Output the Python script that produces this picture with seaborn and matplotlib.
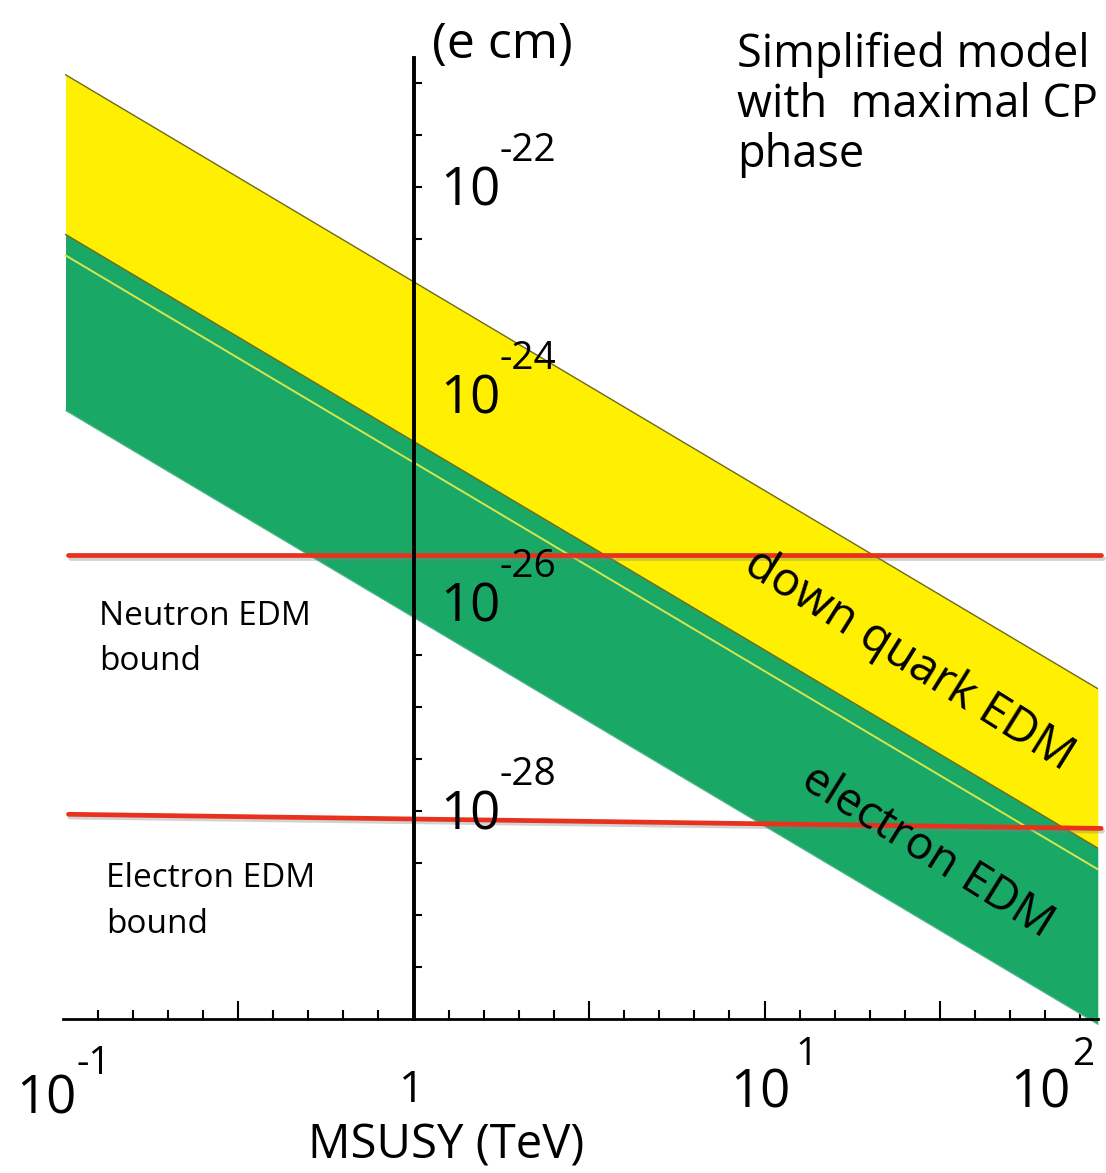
"""EDM vs MSUSY band chart (simplified model with maximal CP phase)."""

import matplotlib

matplotlib.use("Agg")
import matplotlib.patheffects as pe
import matplotlib.pyplot as plt
import seaborn as sns
from matplotlib.ticker import FixedLocator, NullFormatter

W, H = 1106, 1173

# band edges read at both ends of the drawn range (MSUSY in TeV, EDM in e cm)
msusy = [0.102, 89.0]
quark_upper = [1.2e-21, 1.5e-27]
quark_lower = [3.5e-23, 4.4e-29]
electron_upper = [3.5e-23, 4.4e-29]
electron_center = [2.2e-23, 2.75e-29]
electron_lower = [7.1e-25, 8.9e-31]

# experimental bounds
bound_msusy = [0.104, 91.0]
neutron_bound = [2.9e-26, 2.9e-26]
electron_bound = [9.3e-29, 6.8e-29]

y_label_exps = [-22, -24, -26, -28]

YELLOW = "#FFEF00"
GREEN = "#19A865"
OLIVE = "#6E6A1C"
RED = "#E8321E"


def fpos(px, py):
    return px / W, 1 - py / H


sns.set_theme(style="white")
plt.rcParams["font.family"] = ["Open Sans", "DejaVu Sans"]
plt.rcParams["text.color"] = "black"

fig = plt.figure(figsize=(W / 100, H / 100), dpi=100)
ax = fig.add_axes([62.5 / W, (H - 1019) / H, (1098 - 62.5) / W, (1019 - 58) / H])
ax.set_xscale("log")
ax.set_yscale("log")
ax.set_xlim(0.1, 10 ** 1.95)
ax.set_ylim(1e-30, 10 ** -20.76)

# bands
ax.fill_between(msusy, quark_lower, quark_upper, color=YELLOW, lw=0, zorder=1)
ax.fill_between(msusy, electron_lower, electron_upper, color=GREEN, lw=0,
                zorder=1.2, clip_on=False)
sns.lineplot(x=msusy, y=quark_upper, ax=ax, color=OLIVE, lw=1.0, zorder=1.3)
sns.lineplot(x=msusy, y=electron_upper, ax=ax, color=OLIVE, lw=1.0, zorder=1.3)
sns.lineplot(x=msusy, y=electron_center, ax=ax, color="#D6E84C", lw=1.4, zorder=1.3)
sns.lineplot(x=msusy, y=electron_lower, ax=ax, color="#5DB894", lw=0.8, zorder=1.3,
             clip_on=False)

# bounds with a soft drop shadow
shadow = [pe.SimpleLineShadow(offset=(1, -2), shadow_color="0.5", alpha=0.35), pe.Normal()]
for vals in (neutron_bound, electron_bound):
    sns.lineplot(x=bound_msusy, y=vals, ax=ax, color=RED, lw=3.4, zorder=2.2,
                 path_effects=shadow, clip_on=False)

# axes: vertical axis sits at MSUSY = 1 TeV
for side in ("top", "right"):
    ax.spines[side].set_visible(False)
ax.spines["left"].set_position(("data", 1))
ax.spines["left"].set_linewidth(2.8)
ax.spines["bottom"].set_linewidth(2.0)
for side in ("left", "bottom"):
    ax.spines[side].set_color("black")
    ax.spines[side].set_zorder(2.5)

ax.xaxis.set_major_locator(FixedLocator([10 ** (k / 2) for k in range(-1, 4)]))
ax.xaxis.set_minor_locator(FixedLocator([10 ** (k / 10) for k in range(-9, 20)]))
ax.yaxis.set_major_locator(FixedLocator([10 ** (k / 2) for k in range(-59, -41)]))
ax.yaxis.set_minor_locator(FixedLocator([]))
for axis in (ax.xaxis, ax.yaxis):
    axis.set_major_formatter(NullFormatter())
    axis.set_minor_formatter(NullFormatter())
ax.tick_params(axis="x", which="major", direction="in", length=13, width=1.5, color="black",
               bottom=True)
ax.tick_params(axis="x", which="minor", direction="in", length=6.5, width=1.5, color="black",
               bottom=True)
ax.tick_params(axis="y", which="major", direction="in", length=6, width=1.5, color="black",
               left=True)
ax.grid(False)

# y tick labels, drawn as "10" plus a raised exponent
for e in y_label_exps:
    ax.annotate("10", xy=(1, 10.0 ** e), xytext=(19, -13), textcoords="offset points",
                ha="left", va="baseline", fontsize=38, zorder=3)
    ax.annotate(f"-{abs(e)}", xy=(1, 10.0 ** e), xytext=(62, 18.5), textcoords="offset points",
                ha="left", va="baseline", fontsize=28, zorder=3)

# x tick labels
fig.text(*fpos(46, 1114), "10", ha="center", va="baseline", fontsize=38)
fig.text(*fpos(76, 1074), "-1", ha="left", va="baseline", fontsize=28)
fig.text(*fpos(412, 1102), "1", ha="center", va="baseline", fontsize=32)
fig.text(*fpos(760, 1108), "10", ha="center", va="baseline", fontsize=38)
fig.text(*fpos(795, 1065), "1", ha="left", va="baseline", fontsize=28)
fig.text(*fpos(1040, 1108), "10", ha="center", va="baseline", fontsize=38)
fig.text(*fpos(1072, 1065), "2", ha="left", va="baseline", fontsize=28)

fig.text(*fpos(446, 1158), "MSUSY (TeV)", ha="center", va="baseline", fontsize=34)
fig.text(*fpos(432, 58), "(e cm)", ha="left", va="baseline", fontsize=36)

# annotations
for line, base in (("Simplified model", 67), ("with  maximal CP", 117), ("phase", 167)):
    fig.text(*fpos(737, base), line, ha="left", va="baseline", fontsize=32.5)
fig.text(*fpos(99, 625), "Neutron EDM", ha="left", va="baseline", fontsize=24)
fig.text(*fpos(99, 670), "bound", ha="left", va="baseline", fontsize=24)
fig.text(*fpos(106, 887), "Electron EDM", ha="left", va="baseline", fontsize=24)
fig.text(*fpos(106, 933), "bound", ha="left", va="baseline", fontsize=24)

fig.text(*fpos(909, 660), "down quark EDM", ha="center", va="center", fontsize=34,
         rotation=-32, rotation_mode="anchor")
fig.text(*fpos(927, 852), "electron EDM", ha="center", va="center", fontsize=33,
         rotation=-32, rotation_mode="anchor")

fig.savefig("out.png", dpi=100)
plt.close(fig)
